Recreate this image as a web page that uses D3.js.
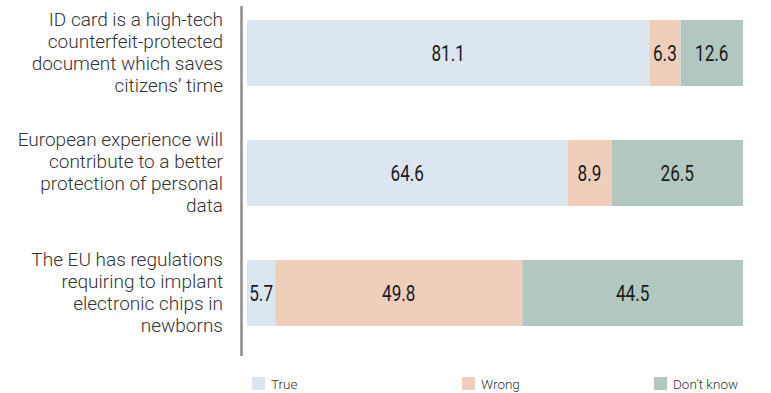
<!DOCTYPE html>
<html>
<head>
<meta charset="utf-8">
<script src="https://cdn.jsdelivr.net/npm/d3@7"></script>
<style>
  html, body { margin: 0; padding: 0; background: #fff; }
  svg { display: block; font-family: Roboto, "Liberation Sans", sans-serif; }
</style>
</head>
<body>
<svg id="chart" width="771" height="393"></svg>
<script>
// Statements, each split into display lines
const statements = [
  ["ID card is a high-tech", "counterfeit-protected", "document which saves", "citizens\u2019 time"],
  ["European experience will", "contribute to a better", "protection of personal", "data"],
  ["The EU has regulations", "requiring to implant", "electronic chips in", "newborns"]
];
const seriesNames = ["True", "Wrong", "Don\u2019t know"];
const trueValues = [81.1, 64.6, 5.7];
const wrongValues = [6.3, 8.9, 49.8];
const dontKnowValues = [12.6, 26.5, 44.5];
const colors = ["#dce6f1", "#efcfbb", "#b1c7bf"];

const svg = d3.select("#chart");
const ids = statements.map((d, i) => "s" + i);

const x = d3.scaleLinear().domain([0, 100]).range([247, 743]);
const y = d3.scaleBand().domain(ids).range([20, 326]).paddingInner(0.45).paddingOuter(0);

const rows = ids.map((id, i) => ({
  id, lines: statements[i],
  values: [trueValues[i], wrongValues[i], dontKnowValues[i]]
}));
const stack = d3.stack().keys([0, 1, 2]).value((d, k) => d.values[k]);
const layers = stack(rows);

// stacked bar segments with centred value labels
const g = svg.append("g");
layers.forEach((layer, k) => {
  g.selectAll(null).data(layer).join("rect")
    .attr("x", d => x(d[0]))
    .attr("y", d => y(d.data.id))
    .attr("width", d => x(d[1]) - x(d[0]))
    .attr("height", y.bandwidth())
    .attr("fill", colors[k]);

  g.selectAll(null).data(layer).join("text")
    .attr("transform", d => `translate(${(x(d[0]) + x(d[1])) / 2},${y(d.data.id) + y.bandwidth() / 2 + 7.5}) scale(0.78,1)`)
    .attr("text-anchor", "middle")
    .attr("font-size", 22)
    .attr("fill", "#1a1a1a")
    .text(d => d.data.values[k].toFixed(1));
});

// category axis line
svg.append("line")
  .attr("x1", 241.5).attr("x2", 241.5)
  .attr("y1", 6).attr("y2", 356)
  .attr("stroke", "#8c8c8c").attr("stroke-width", 2.5);

// wrapped statement labels, right aligned
rows.forEach(r => {
  const cy = y(r.id) + y.bandwidth() / 2;
  const lh = 22;
  const t = svg.append("text")
    .attr("text-anchor", "end")
    .attr("font-size", 19)
    .attr("font-weight", 300)
    .attr("fill", "#333");
  r.lines.forEach((line, j) => {
    t.append("tspan")
      .attr("x", 223)
      .attr("y", cy + (j - (r.lines.length - 1) / 2) * lh + 5.5)
      .text(line);
  });
});

// legend
const legendX = [252, 462, 654];
seriesNames.forEach((name, k) => {
  svg.append("rect")
    .attr("x", legendX[k]).attr("y", 377)
    .attr("width", 13).attr("height", 13)
    .attr("fill", colors[k]);
  svg.append("text")
    .attr("x", legendX[k] + 19).attr("y", 389)
    .attr("font-size", 13.5)
    .attr("font-weight", 300)
    .attr("fill", "#333")
    .text(name);
});
</script>
</body>
</html>
